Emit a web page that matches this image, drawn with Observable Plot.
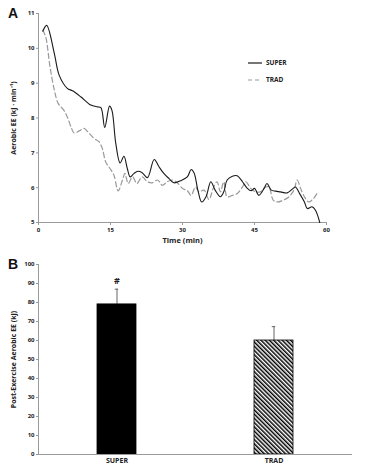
<!DOCTYPE html>
<html><head><meta charset="utf-8">
<script src="https://cdn.jsdelivr.net/npm/d3@7"></script>
<script src="https://cdn.jsdelivr.net/npm/@observablehq/plot@0.6"></script>
<style>
body{margin:0;background:#fff;}
#wrap{position:relative;width:367px;height:473px;overflow:hidden;background:#fff;}
#wrap svg{display:block;}
.plabel{position:absolute;left:8px;font:bold 14px "Liberation Sans",Arial,sans-serif;color:#111;}
#legend{position:absolute;left:248px;top:54px;font:bold 6.5px "Open Sans",sans-serif;color:#222;}
#legend div{height:17px;display:flex;align-items:center;}
#legend svg{margin-right:4px;}
</style></head><body>
<div id="wrap">
  <div id="a"></div>
  <div id="b"></div>
  <div class="plabel" style="top:5px">A</div>
  <div class="plabel" style="top:256px">B</div>
  <div id="legend"></div>
</div>
<script>
// Panel A: aerobic energy expenditure over time
const superT = [0.9,1.7,3.3,4.3,6.0,7.1,8.8,10.9,12.3,13.0,13.8,14.8,15.3,16.1,17.0,17.8,18.5,19.1,19.9,20.7,21.6,22.7,24.1,25.1,26.1,27.2,28.2,29.6,31.0,31.8,32.4,33.2,34.0,34.9,35.9,36.8,37.9,38.6,39.3,40.4,41.4,42.5,43.5,44.3,45.0,45.9,47.0,47.6,48.5,49.4,50.4,51.8,52.8,53.5,54.4,55.4,56.0,57.0,57.7,58.6];
const superV = [10.49,10.66,9.85,9.23,8.85,8.78,8.61,8.37,8.32,8.30,7.73,8.34,8.22,7.27,6.71,6.90,6.55,6.31,6.41,6.47,6.43,6.29,6.81,6.60,6.41,6.26,6.14,6.20,6.31,6.52,6.43,5.93,5.59,5.74,6.17,5.93,5.74,5.88,6.22,6.33,6.34,6.17,5.98,5.91,5.98,5.78,5.98,6.12,5.93,5.90,5.88,5.85,5.95,6.02,5.83,5.59,5.40,5.45,5.35,5.00];
const tradT = [0.9,1.5,2.4,3.3,4.1,5.3,6.0,6.9,7.4,8.5,9.5,10.3,11.6,12.6,13.3,14.0,14.9,15.7,16.6,17.5,18.0,18.7,19.6,20.5,21.6,22.7,23.7,24.8,25.8,26.8,27.9,28.9,30.0,31.0,31.8,32.7,33.4,34.5,35.5,36.5,37.2,37.9,38.6,39.3,40.4,41.4,42.5,43.2,44.2,45.2,46.2,47.3,48.0,48.9,49.7,51.0,52.2,53.2,53.9,54.6,55.4,56.3,57.3,58.0];
const tradV = [10.52,10.33,9.47,8.80,8.42,8.22,8.03,7.70,7.57,7.63,7.70,7.60,7.41,7.32,7.12,6.74,6.55,6.36,5.91,6.22,6.41,6.12,6.31,6.12,6.31,6.17,6.14,6.22,6.07,6.17,6.22,6.14,5.98,5.91,5.78,6.02,5.88,5.93,5.66,6.02,6.17,5.88,6.17,5.74,5.78,5.83,6.02,6.17,5.98,5.88,5.88,6.02,6.02,5.64,5.59,5.64,5.74,5.93,6.22,5.98,5.74,5.59,5.69,5.83];
const xTicksA = [0,15,30,45,60];
const yTicksA = [5,6,7,8,9,10,11];
const seriesNames = ["SUPER","TRAD"];

// Panel B: post-exercise aerobic EE
const groups = ["SUPER","TRAD"];
const meanEE = [79,60];
const errEE = [8,7.3];
const sigMarks = ["#",""];
const yTicksB = [0,10,20,30,40,50,60,70,80,90,100];

const superData = superT.map((t,i)=>({t, v:superV[i]}));
const tradData = tradT.map((t,i)=>({t, v:tradV[i]}));
const barData = groups.map((g,i)=>({g, m:meanEE[i], e:errEE[i], s:sigMarks[i]}));

const axisGray = "#9a9a9a";
const txt = "#222";
const baseStyle = {fontFamily:"'Open Sans',sans-serif", fontWeight:"bold", fontSize:"6px", color:txt, background:"white", overflow:"visible"};

const plotA = Plot.plot({
  width:367, height:250,
  marginLeft:38, marginRight:41, marginTop:13, marginBottom:28,
  style:baseStyle,
  x:{domain:[0,60]},
  y:{domain:[5,11]},
  marks:[
    Plot.ruleX([0],{stroke:axisGray, strokeWidth:1}),
    Plot.ruleY([5],{stroke:axisGray, strokeWidth:1}),
    Plot.axisX({ticks:xTicksA, tickFormat:"d", tickSize:3, tickPadding:2, stroke:axisGray, fill:txt, label:null}),
    Plot.axisY({ticks:yTicksA, tickFormat:"d", tickSize:2, tickPadding:2, stroke:axisGray, fill:txt, label:null}),
    Plot.text(["Time (min)"],{frameAnchor:"bottom", dy:20, fontSize:7.5, fill:txt}),
    Plot.text(["Aerobic EE (kJ · min⁻¹)"],{frameAnchor:"left", textAnchor:"middle", rotate:-90, dx:-25, fontSize:7, fill:txt}),
    Plot.line(tradData,{x:"t", y:"v", curve:"catmull-rom", stroke:"#999", strokeWidth:1.2, strokeDasharray:"5,3"}),
    Plot.line(superData,{x:"t", y:"v", curve:"catmull-rom", stroke:"#1a1a1a", strokeWidth:1.1})
  ]
});
document.getElementById("a").appendChild(plotA);

const plotB = Plot.plot({
  width:367, height:223,
  marginLeft:38, marginRight:15, marginTop:14, marginBottom:19,
  style:baseStyle,
  x:{domain:groups, paddingInner:0.754, paddingOuter:0.374},
  y:{domain:[0,100]},
  marks:[
    Plot.axisY({ticks:yTicksB, tickFormat:"d", tickSize:2, tickPadding:2, stroke:axisGray, fill:txt, label:null}),
    Plot.axisX({tickSize:0, tickPadding:4, fill:txt, fontSize:7, label:null}),
    Plot.text(["Post-Exercise Aerobic EE (kJ)"],{frameAnchor:"left", textAnchor:"middle", rotate:-90, dx:-25, fontSize:7, fill:txt}),
    Plot.ruleX(barData,{x:"g", y1:"m", y2:d=>d.m+d.e, stroke:"#666", strokeWidth:1}),
    Plot.tickY(barData,{x:"g", y:d=>d.m+d.e, stroke:"#666", strokeWidth:1, insetLeft:17.8, insetRight:17.8}),
    Plot.barY(barData,{filter:d=>d.g==="SUPER", x:"g", y:"m", fill:"black", stroke:"black", strokeWidth:0.8}),
    Plot.barY(barData,{filter:d=>d.g==="TRAD", x:"g", y:"m", fill:"url(#hatch)", stroke:"black", strokeWidth:0.8}),
    Plot.text(barData,{x:"g", y:d=>d.m+d.e, text:"s", dy:-8, fontSize:9, fill:txt}),
    Plot.ruleY([0],{stroke:axisGray, strokeWidth:1}),
    Plot.frame({anchor:"left", stroke:axisGray, strokeWidth:1})
  ]
});
// hatch pattern
const ns = "http://www.w3.org/2000/svg";
const defs = document.createElementNS(ns,"defs");
const pat = document.createElementNS(ns,"pattern");
pat.setAttribute("id","hatch");
pat.setAttribute("patternUnits","userSpaceOnUse");
pat.setAttribute("width","3");
pat.setAttribute("height","3");
pat.setAttribute("patternTransform","rotate(-45)");
const bg = document.createElementNS(ns,"rect");
bg.setAttribute("width","3");bg.setAttribute("height","3");bg.setAttribute("fill","white");
const st = document.createElementNS(ns,"rect");
st.setAttribute("width","1.5");st.setAttribute("height","3");st.setAttribute("fill","black");
pat.appendChild(bg);pat.appendChild(st);defs.appendChild(pat);
plotB.insertBefore(defs, plotB.firstChild);
document.getElementById("b").appendChild(plotB);

// legend
const leg = document.getElementById("legend");
seriesNames.forEach((name,i)=>{
  const row = document.createElement("div");
  const dash = i===0 ? "" : 'stroke-dasharray="4,3"';
  const col = i===0 ? "#1a1a1a" : "#999";
  row.innerHTML = `<svg width="14" height="4"><line x1="0" y1="2" x2="14" y2="2" stroke="${col}" stroke-width="1.2" ${dash}/></svg><span>${name}</span>`;
  leg.appendChild(row);
});
</script>
</body></html>
